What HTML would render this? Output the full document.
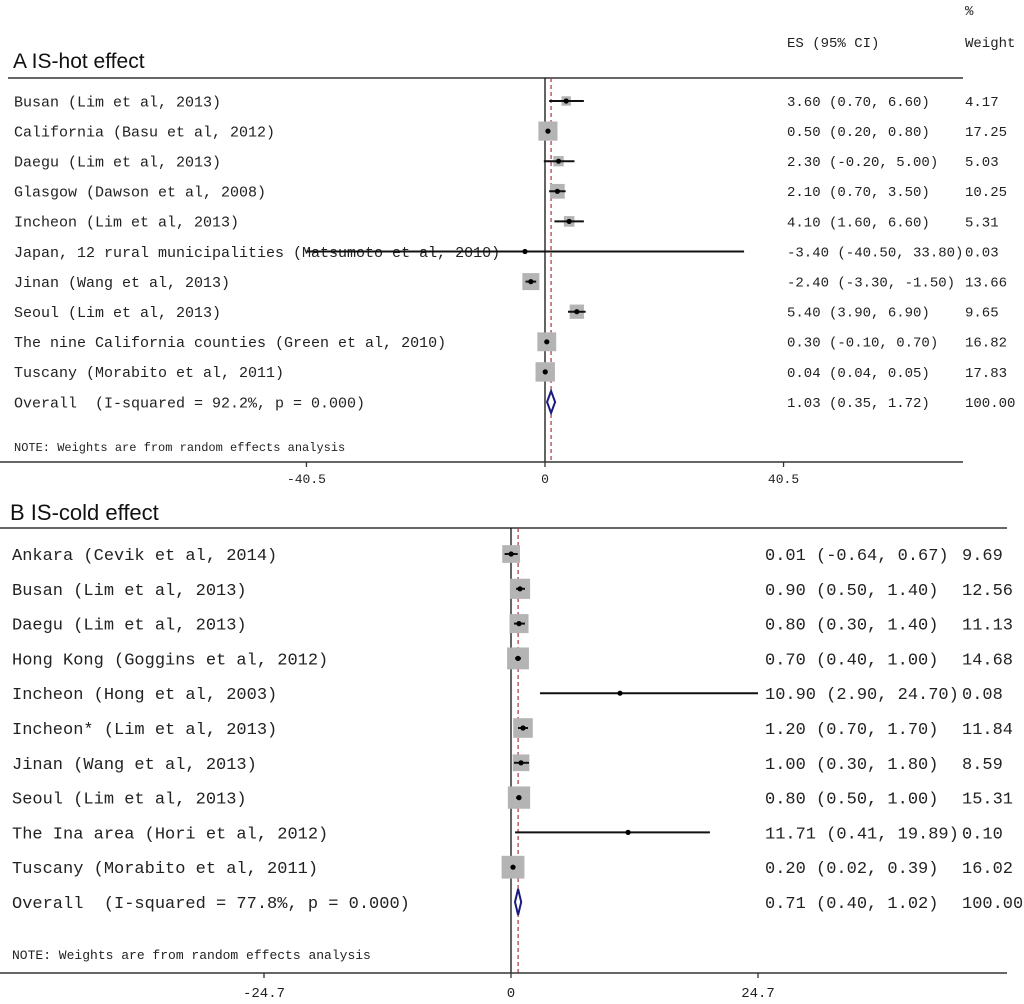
<!DOCTYPE html>
<html><head><meta charset="utf-8"><style>
html,body{margin:0;padding:0;background:#fff;}
svg{display:block;}
.m{font-family:"Liberation Mono","Noto Sans CJK SC",monospace;fill:#222;white-space:pre;}
.t{font-family:"Liberation Sans","Noto Sans CJK SC",sans-serif;fill:#111;}
</style></head><body>
<svg id="chart" width="1024" height="1004" viewBox="0 0 1024 1004" xmlns="http://www.w3.org/2000/svg">
<text class="t" x="13" y="68" font-size="21">A IS-hot effect</text>
<text class="m" x="787" y="47" font-size="14">ES (95% CI)</text>
<text class="m" x="965" y="15" font-size="14">%</text>
<text class="m" x="965" y="47" font-size="14">Weight</text>
<line x1="8" y1="78" x2="963" y2="78" stroke="#333" stroke-width="1.5"/>
<text class="t" x="10" y="520" font-size="22">B IS-cold effect</text>
<line x1="0" y1="528" x2="1007" y2="528" stroke="#333" stroke-width="1.5"/>
<g id="ga"></g><g id="gb"></g>
</svg>
<script>
const aLabels=["Busan (Lim et al, 2013)","California (Basu et al, 2012)","Daegu (Lim et al, 2013)","Glasgow (Dawson et al, 2008)","Incheon (Lim et al, 2013)","Japan, 12 rural municipalities (Matsumoto et al, 2010)","Jinan (Wang et al, 2013)","Seoul (Lim et al, 2013)","The nine California counties (Green et al, 2010)","Tuscany (Morabito et al, 2011)"];
const aES=[3.60,0.50,2.30,2.10,4.10,-3.40,-2.40,5.40,0.30,0.04];
const aLo=[0.70,0.20,-0.20,0.70,1.60,-40.50,-3.30,3.90,-0.10,0.04];
const aHi=[6.60,0.80,5.00,3.50,6.60,33.80,-1.50,6.90,0.70,0.05];
const aW=[4.17,17.25,5.03,10.25,5.31,0.03,13.66,9.65,16.82,17.83];
const aEStxt=["3.60 (0.70, 6.60)","0.50 (0.20, 0.80)","2.30 (-0.20, 5.00)","2.10 (0.70, 3.50)","4.10 (1.60, 6.60)","-3.40 (-40.50, 33.80)","-2.40 (-3.30, -1.50)","5.40 (3.90, 6.90)","0.30 (-0.10, 0.70)","0.04 (0.04, 0.05)"];
const aWtxt=["4.17","17.25","5.03","10.25","5.31","0.03","13.66","9.65","16.82","17.83"];
const aOverall=[1.03,0.35,1.72];
const aTicks=[-40.5,0,40.5];
const aTickLabels=["-40.5","0","40.5"];

const bLabels=["Ankara (Cevik et al, 2014)","Busan (Lim et al, 2013)","Daegu (Lim et al, 2013)","Hong Kong (Goggins et al, 2012)","Incheon (Hong et al, 2003)","Incheon* (Lim et al, 2013)","Jinan (Wang et al, 2013)","Seoul (Lim et al, 2013)","The Ina area (Hori et al, 2012)","Tuscany (Morabito et al, 2011)"];
const bES=[0.01,0.90,0.80,0.70,10.90,1.20,1.00,0.80,11.71,0.20];
const bLo=[-0.64,0.50,0.30,0.40,2.90,0.70,0.30,0.50,0.41,0.02];
const bHi=[0.67,1.40,1.40,1.00,24.70,1.70,1.80,1.00,19.89,0.39];
const bW=[9.69,12.56,11.13,14.68,0.08,11.84,8.59,15.31,0.10,16.02];
const bEStxt=["0.01 (-0.64, 0.67)","0.90 (0.50, 1.40)","0.80 (0.30, 1.40)","0.70 (0.40, 1.00)","10.90 (2.90, 24.70)","1.20 (0.70, 1.70)","1.00 (0.30, 1.80)","0.80 (0.50, 1.00)","11.71 (0.41, 19.89)","0.20 (0.02, 0.39)"];
const bWtxt=["9.69","12.56","11.13","14.68","0.08","11.84","8.59","15.31","0.10","16.02"];
const bOverall=[0.71,0.40,1.02];
const bTicks=[-24.7,0,24.7];
const bTickLabels=["-24.7","0","24.7"];

const NS="http://www.w3.org/2000/svg";
function mk(p,tag,at,txt){const e=document.createElementNS(NS,tag);for(const k in at)e.setAttribute(k,at[k]);if(txt!==undefined)e.textContent=txt;p.appendChild(e);return e;}

function panel(g,cfg){
  const x=v=>cfg.zero+v*cfg.scale;
  const y=i=>cfg.y0+i*cfg.pitch;
  const n=cfg.labels.length;
  let e=mk(g,'line',{x1:x(0),y1:cfg.top,x2:x(0),y2:cfg.axisY,stroke:'#111','stroke-width':1.3});
  
  
  e=mk(g,'line',{x1:x(cfg.overall[0]),y1:cfg.top,x2:x(cfg.overall[0]),y2:cfg.axisY,stroke:'#b03040','stroke-width':1.2,'stroke-dasharray':'4,3'});
  
  
  for(let i=0;i<n;i++){
    const yy=y(i);
    e=mk(g,'text',{x:cfg.labelX,y:yy+cfg.fs*0.35,class:'m','font-size':cfg.fs},cfg.labels[i]);
    
    
    const s=cfg.k*Math.sqrt(cfg.w[i]);
    e=mk(g,'rect',{x:x(cfg.es[i])-s/2,y:yy-s/2,width:s,height:s,fill:'#b4b4b4'});
    
    
    e=mk(g,'line',{x1:x(cfg.lo[i]),y1:yy,x2:x(cfg.hi[i]),y2:yy,stroke:'#111','stroke-width':2});
    
    
    e=mk(g,'circle',{cx:x(cfg.es[i]),cy:yy,r:2.6,fill:'#000'});
    
    
    e=mk(g,'text',{x:cfg.esX,y:yy+cfg.efs*0.35,class:'m','font-size':cfg.efs},cfg.esTxt[i]);
    
    
    e=mk(g,'text',{x:cfg.wX,y:yy+cfg.efs*0.35,class:'m','font-size':cfg.efs},cfg.wTxt[i]);
    
    
  }
  const oy=y(n);
  e=mk(g,'text',{x:cfg.labelX,y:oy+cfg.fs*0.35,class:'m','font-size':cfg.fs},cfg.overallLabel);
  
  
  const o=cfg.overall,h=cfg.dh/2;
  e=mk(g,'polygon',{points:`${x(o[1])},${oy} ${x(o[0])},${oy-h} ${x(o[2])},${oy} ${x(o[0])},${oy+h}`,fill:'#fff',stroke:'#1a1a80','stroke-width':2});
  
  
  e=mk(g,'text',{x:cfg.esX,y:oy+cfg.efs*0.35,class:'m','font-size':cfg.efs},cfg.overallES);
  
  
  e=mk(g,'text',{x:cfg.wX,y:oy+cfg.efs*0.35,class:'m','font-size':cfg.efs},'100.00');
  
  
  e=mk(g,'text',{x:cfg.labelX,y:cfg.noteY,class:'m','font-size':cfg.noteFs},'NOTE: Weights are from random effects analysis');
  
  
  e=mk(g,'line',{x1:0,y1:cfg.axisY,x2:cfg.axisEnd,y2:cfg.axisY,stroke:'#333','stroke-width':1.5});
  
  
  cfg.ticks.forEach((t,j)=>{
    let tl=mk(g,'line',{x1:x(t),y1:cfg.axisY,x2:x(t),y2:cfg.axisY+5,stroke:'#333','stroke-width':1.3});
    
    
    tl=mk(g,'text',{x:x(t),y:cfg.axisY+cfg.tickDy,class:'m','font-size':cfg.tickFs,'text-anchor':'middle'},cfg.tickLabels[j]);
    
    
  });
}
panel(document.getElementById('ga'),{labels:aLabels,es:aES,lo:aLo,hi:aHi,w:aW,esTxt:aEStxt,wTxt:aWtxt,overall:aOverall,ticks:aTicks,tickLabels:aTickLabels,
  zero:545,scale:5.89,y0:101,pitch:30.1,top:78,axisY:462,axisEnd:963,labelX:14,esX:787,wX:965,fs:15,efs:14,k:4.6,dh:22,
  overallLabel:'Overall  (I-squared = 92.2%, p = 0.000)',overallES:'1.03 (0.35, 1.72)',noteY:451,noteFs:12,tickDy:21,tickFs:13});
panel(document.getElementById('gb'),{labels:bLabels,es:bES,lo:bLo,hi:bHi,w:bW,esTxt:bEStxt,wTxt:bWtxt,overall:bOverall,ticks:bTicks,tickLabels:bTickLabels,
  zero:511,scale:10,y0:554,pitch:34.8,top:528,axisY:973,axisEnd:1007,labelX:12,esX:765,wX:962,fs:17,efs:17,k:5.7,dh:26,
  overallLabel:'Overall  (I-squared = 77.8%, p = 0.000)',overallES:'0.71 (0.40, 1.02)',noteY:959,noteFs:13,tickDy:24,tickFs:14});
</script>
</body></html>
